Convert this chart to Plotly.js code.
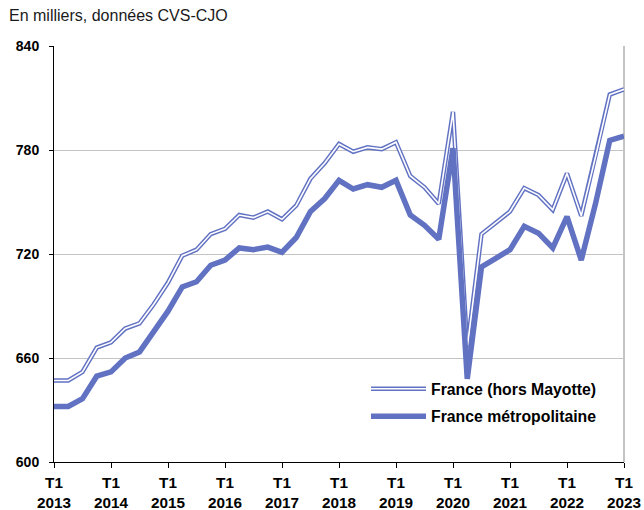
<!DOCTYPE html>
<html>
<head>
<meta charset="utf-8">
<script src="https://cdn.plot.ly/plotly-3.0.1.min.js"></script>
<style>
  html, body { margin: 0; padding: 0; background: #ffffff; }
  #chart { width: 644px; height: 510px; }
</style>
</head>
<body>
<div id="chart"></div>
<script>
// Quarter labels (T1 2013 .. T1 2023)
const years = [2013, 2014, 2015, 2016, 2017, 2018, 2019, 2020, 2021, 2022, 2023];
const quarters = [];
years.forEach(function (y) {
  ["T1", "T2", "T3", "T4"].forEach(function (q) {
    if (y < 2023 || q === "T1") quarters.push(q + " " + y);
  });
});
const tickQuarters = years.map(function (y) { return "T1 " + y; });
const tickLabels = years.map(function (y) { return "T1<br>" + y; });

// France (hors Mayotte), thousands
const franceHorsMayotte = [
  647, 647, 652, 666, 669, 677, 680, 691, 703.5, 719, 722.5,
  731.5, 734.5, 742.5, 741, 744.5, 740, 748, 763.5, 772.5, 783.5,
  779, 781.5, 780.5, 784.5, 765, 758.5, 749, 802, 666,
  731.5, 738, 744.5, 758, 754, 745.5, 766.5, 742, 776, 812, 815
];
// France métropolitaine, thousands
const franceMetro = [
  632, 632, 636.5, 649.5, 652, 660, 663.5, 675, 687, 701, 704,
  713.5, 716.5, 723.5, 722.5, 724, 721, 729.5, 744.5, 752, 762.5,
  757.5, 760, 758.5, 762.5, 742.5, 736.5, 728.5, 781, 648,
  712.5, 717.5, 722.5, 736, 732, 723.5, 741.5, 716.5, 749, 785.5, 788
];

const blue = "#6272C2";

const traces = [
  {
    x: quarters, y: franceHorsMayotte, type: "scatter", mode: "lines",
    name: "France (hors Mayotte)", legendgroup: "a",
    line: { color: blue, width: 4.5 }, hoverinfo: "skip"
  },
  {
    x: quarters, y: franceHorsMayotte, type: "scatter", mode: "lines",
    name: "France (hors Mayotte)", legendgroup: "a", showlegend: false,
    line: { color: "#ffffff", width: 1.6 }, hoverinfo: "skip"
  },
  {
    x: quarters, y: franceMetro, type: "scatter", mode: "lines",
    name: "France métropolitaine", legendgroup: "b",
    line: { color: blue, width: 5.5 }, hoverinfo: "skip"
  }
];

const fontFam = "Liberation Sans, Arial, sans-serif";

const layout = {
  width: 644, height: 510,
  margin: { l: 54, r: 20, t: 46, b: 48, pad: 0 },
  paper_bgcolor: "#ffffff", plot_bgcolor: "#ffffff",
  font: { family: fontFam, color: "#000000", size: 14 },
  title: {
    text: "En milliers, données CVS-CJO",
    font: { family: fontFam, size: 16, color: "#1a1a1a" },
    x: 9 / 644, xref: "container", xanchor: "left",
    y: 1 - 15 / 510, yref: "container", yanchor: "middle"
  },
  xaxis: {
    type: "category",
    categoryorder: "array", categoryarray: quarters,
    range: [0, 40],
    tickmode: "array", tickvals: tickQuarters, ticktext: tickLabels,
    tickfont: { family: fontFam, size: 15.3, weight: "bold", color: "#000" },
    ticks: "outside", ticklen: 5, tickcolor: "#000", tickwidth: 1,
    ticklabelstandoff: 2,
    showline: true, linecolor: "#000", linewidth: 1,
    showgrid: false, zeroline: false, fixedrange: true
  },
  yaxis: {
    range: [600, 840],
    tickvals: [600, 660, 720, 780, 840],
    tickfont: { family: fontFam, size: 14, weight: "bold", color: "#000" },
    ticks: "outside", ticklen: 4, tickcolor: "#000", tickwidth: 1,
    ticklabelstandoff: 7,
    showline: true, linecolor: "#000", linewidth: 1,
    showgrid: true, gridcolor: "#c4c4c4", gridwidth: 1,
    zeroline: false, fixedrange: true
  },
  shapes: [
    { type: "line", xref: "paper", yref: "paper", x0: 1, x1: 1, y0: 0, y1: 1,
      line: { color: "#c4c4c4", width: 2 }, layer: "below" }
  ],
  legend: {
    x: (366 - 54) / 570, xanchor: "left",
    y: (462 - 372) / 416, yanchor: "top",
    bgcolor: "rgba(0,0,0,0)", borderwidth: 0,
    font: { family: fontFam, size: 15.8, weight: "bold", color: "#000" },
    traceorder: "grouped", tracegroupgap: 4,
    itemwidth: 55
  },
  showlegend: true
};

Plotly.newPlot("chart", traces, layout, { staticPlot: true, displayModeBar: false }).then(function () {
  // give the first legend entry the same double-line (outlined) look
  const items = document.querySelectorAll("#chart .legend .traces");
  if (items.length) {
    const p = items[0].querySelector(".legendlines path");
    if (p) {
      const c = p.cloneNode(true);
      c.style.stroke = "#ffffff";
      c.style.strokeWidth = "1.6px";
      p.parentNode.appendChild(c);
    }
  }
});
</script>
</body>
</html>
